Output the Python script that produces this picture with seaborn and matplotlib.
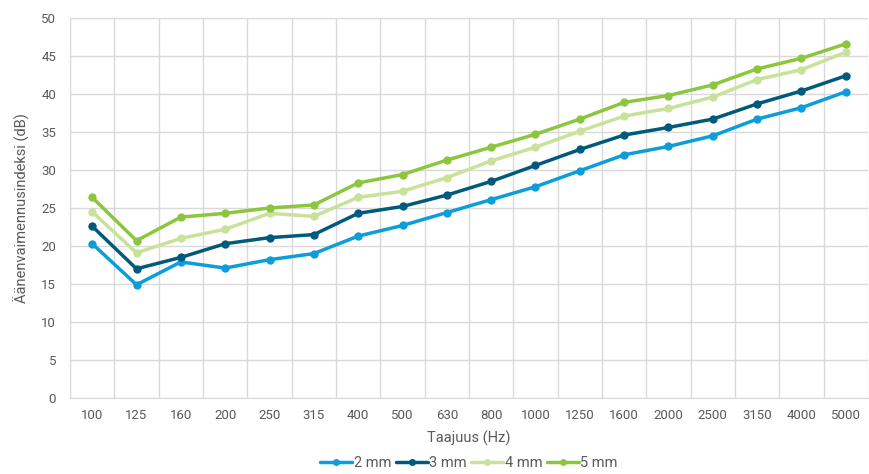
import numpy as np
import pandas as pd
import matplotlib
matplotlib.use("Agg")
import matplotlib.pyplot as plt
import seaborn as sns

freqs = ['100', '125', '160', '200', '250', '315', '400', '500', '630', '800',
         '1000', '1250', '1600', '2000', '2500', '3150', '4000', '5000']
mm2 = [20.3, 14.9, 17.9, 17.1, 18.2, 19.0, 21.3, 22.7, 24.4, 26.1,
       27.8, 29.9, 32.0, 33.1, 34.5, 36.7, 38.2, 40.3]
mm3 = [22.6, 17.0, 18.5, 20.3, 21.1, 21.5, 24.3, 25.2, 26.7, 28.5,
       30.6, 32.7, 34.6, 35.6, 36.7, 38.7, 40.4, 42.4]
mm4 = [24.5, 19.1, 21.0, 22.2, 24.3, 23.9, 26.4, 27.2, 29.0, 31.2,
       33.0, 35.1, 37.1, 38.1, 39.6, 41.9, 43.2, 45.5]
mm5 = [26.4, 20.7, 23.8, 24.3, 25.0, 25.4, 28.3, 29.4, 31.3, 33.0,
       34.7, 36.7, 38.9, 39.8, 41.2, 43.3, 44.7, 46.6]
series = {'2 mm': mm2, '3 mm': mm3, '4 mm': mm4, '5 mm': mm5}
colors = ['#0c9ddb', '#005a7c', '#c8e29a', '#8cc63f']

df = pd.concat([pd.DataFrame({'freq': freqs, 'value': v, 'paksuus': k})
                for k, v in series.items()], ignore_index=True)

sns.set_style("white")
plt.rcParams['font.family'] = ['Roboto', 'DejaVu Sans']

fig = plt.figure(figsize=(8.69, 4.74), dpi=100)
ax = fig.add_axes([70 / 869, 1 - 398 / 474, 798 / 869, 380 / 474])

sns.lineplot(data=df, x='freq', y='value', hue='paksuus', palette=colors,
             marker='o', markersize=6, markeredgewidth=0, linewidth=2.5,
             sort=False, ax=ax)

ax.set_xlim(-0.5, len(freqs) - 0.5)
ax.set_ylim(0, 50)
ax.set_yticks(np.arange(0, 51, 5))
ax.set_xticks(np.arange(len(freqs)))
ax.set_xticklabels(freqs)
ax.set_xticks(np.arange(len(freqs) + 1) - 0.5, minor=True)
ax.grid(False)
ax.grid(which='minor', axis='x', color='#d9d9d9', linewidth=1)
ax.grid(which='major', axis='y', color='#d9d9d9', linewidth=1)
ax.set_axisbelow(True)
for s in ax.spines.values():
    s.set_visible(False)
ax.spines['left'].set_visible(True)
ax.spines['left'].set_color('#d9d9d9')
ax.spines['bottom'].set_visible(True)
ax.spines['bottom'].set_color('#d9d9d9')
ax.tick_params(axis='both', which='both', length=0, labelsize=9.5, colors='#595959')
ax.tick_params(axis='x', pad=8)
ax.tick_params(axis='y', pad=10)

ax.set_xlabel('Taajuus (Hz)', fontsize=10.5, color='#595959', labelpad=6)
ax.set_ylabel('Äänenvaimennusindeksi (dB)', fontsize=10.5, color='#595959', labelpad=8)

handles, labels = ax.get_legend_handles_labels()
for h in handles:
    h.set_markersize(5)
ax.legend(handles, labels, loc='center', bbox_to_anchor=(0.5, -0.172),
          ncol=4, frameon=False, fontsize=10.5, handlelength=2.2,
          handletextpad=0.1, columnspacing=0.3, labelcolor='#595959',
          borderpad=0, borderaxespad=0)

fig.savefig('out.png', dpi=100)
